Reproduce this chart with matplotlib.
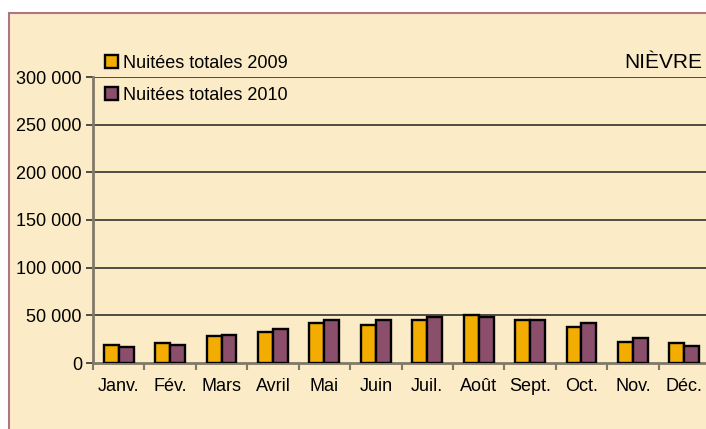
import matplotlib.pyplot as plt
import matplotlib.patches as mpatches
import numpy as np

months = ["Janv.", "Fév.", "Mars", "Avril", "Mai", "Juin",
          "Juil.", "Août", "Sept.", "Oct.", "Nov.", "Déc."]
nuitees_2009 = [19000, 21000, 28000, 33000, 42000, 40000,
                45000, 50000, 45000, 38000, 22500, 21000]
nuitees_2010 = [17000, 19000, 29500, 36000, 45000, 45000,
                48500, 48500, 45000, 41500, 26000, 17500]
yticks = [0, 50000, 100000, 150000, 200000, 250000, 300000]

bg = '#FBEBC6'
c2009 = '#F2AD00'
c2010 = '#8B4E6B'
axis_col = '#807868'

plt.rcParams['font.family'] = ['Liberation Sans', 'DejaVu Sans']

W, H = 706, 429
fig = plt.figure(figsize=(W / 100, H / 100), dpi=100)
fig.patch.set_facecolor('white')

# beige chart area with pinkish border
frame = mpatches.Rectangle((8.5 / W, -0.01), 1, 1.01 - 12.5 / H, transform=fig.transFigure,
                           facecolor=bg, edgecolor='#B07585', linewidth=1.5,
                           zorder=-5)
fig.patches.append(frame)

left, right = 93 / W, 710 / W
bottom, top = (H - 363) / H, (H - 77) / H
ax = fig.add_axes([left, bottom, right - left, top - bottom])
ax.set_facecolor('none')

x = np.arange(len(months))
w = 0.29
ax.bar(x - w / 2, nuitees_2009, w, color=c2009, edgecolor='black',
       linewidth=1.7, label='Nuitées totales 2009', zorder=3)
ax.bar(x + w / 2, nuitees_2010, w, color=c2010, edgecolor='black',
       linewidth=1.7, label='Nuitées totales 2010', zorder=3)

ax.set_xlim(-0.5, len(months) - 0.5)
ax.set_ylim(0, 300000)
ax.set_yticks(yticks)
ax.set_yticklabels([f"{v:,}".replace(",", " ") for v in yticks])
for v in yticks[1:]:
    ax.axhline(v, color='#222222', linewidth=1.1, zorder=1)

ax.set_xticks(x)
ax.set_xticklabels(months)
ax.set_xticks(np.arange(len(months) + 1) - 0.5, minor=True)
ax.tick_params(axis='x', which='major', length=0, pad=11, labelsize=13)
ax.tick_params(axis='x', which='minor', length=5, width=1.5, color=axis_col)
ax.tick_params(axis='y', length=5, width=1.2, color='#333333', labelsize=13, pad=3)

for s in ['top', 'right']:
    ax.spines[s].set_visible(False)
ax.spines['left'].set_color(axis_col)
ax.spines['left'].set_linewidth(2)
ax.spines['bottom'].set_color(axis_col)
ax.spines['bottom'].set_linewidth(2)

leg = fig.legend(*ax.get_legend_handles_labels(), loc='upper left',
                 bbox_to_anchor=(105 / W, 1 - 55 / H), frameon=False,
                 fontsize=13, handlelength=0.72, handleheight=0.72,
                 handletextpad=0.25, labelspacing=0.82, borderaxespad=0,
                 borderpad=0)

fig.text(702 / W, 1 - 62 / H, 'NIÈVRE', ha='right', va='center', fontsize=15)

fig.savefig('out.png', dpi=100, facecolor=fig.get_facecolor())
